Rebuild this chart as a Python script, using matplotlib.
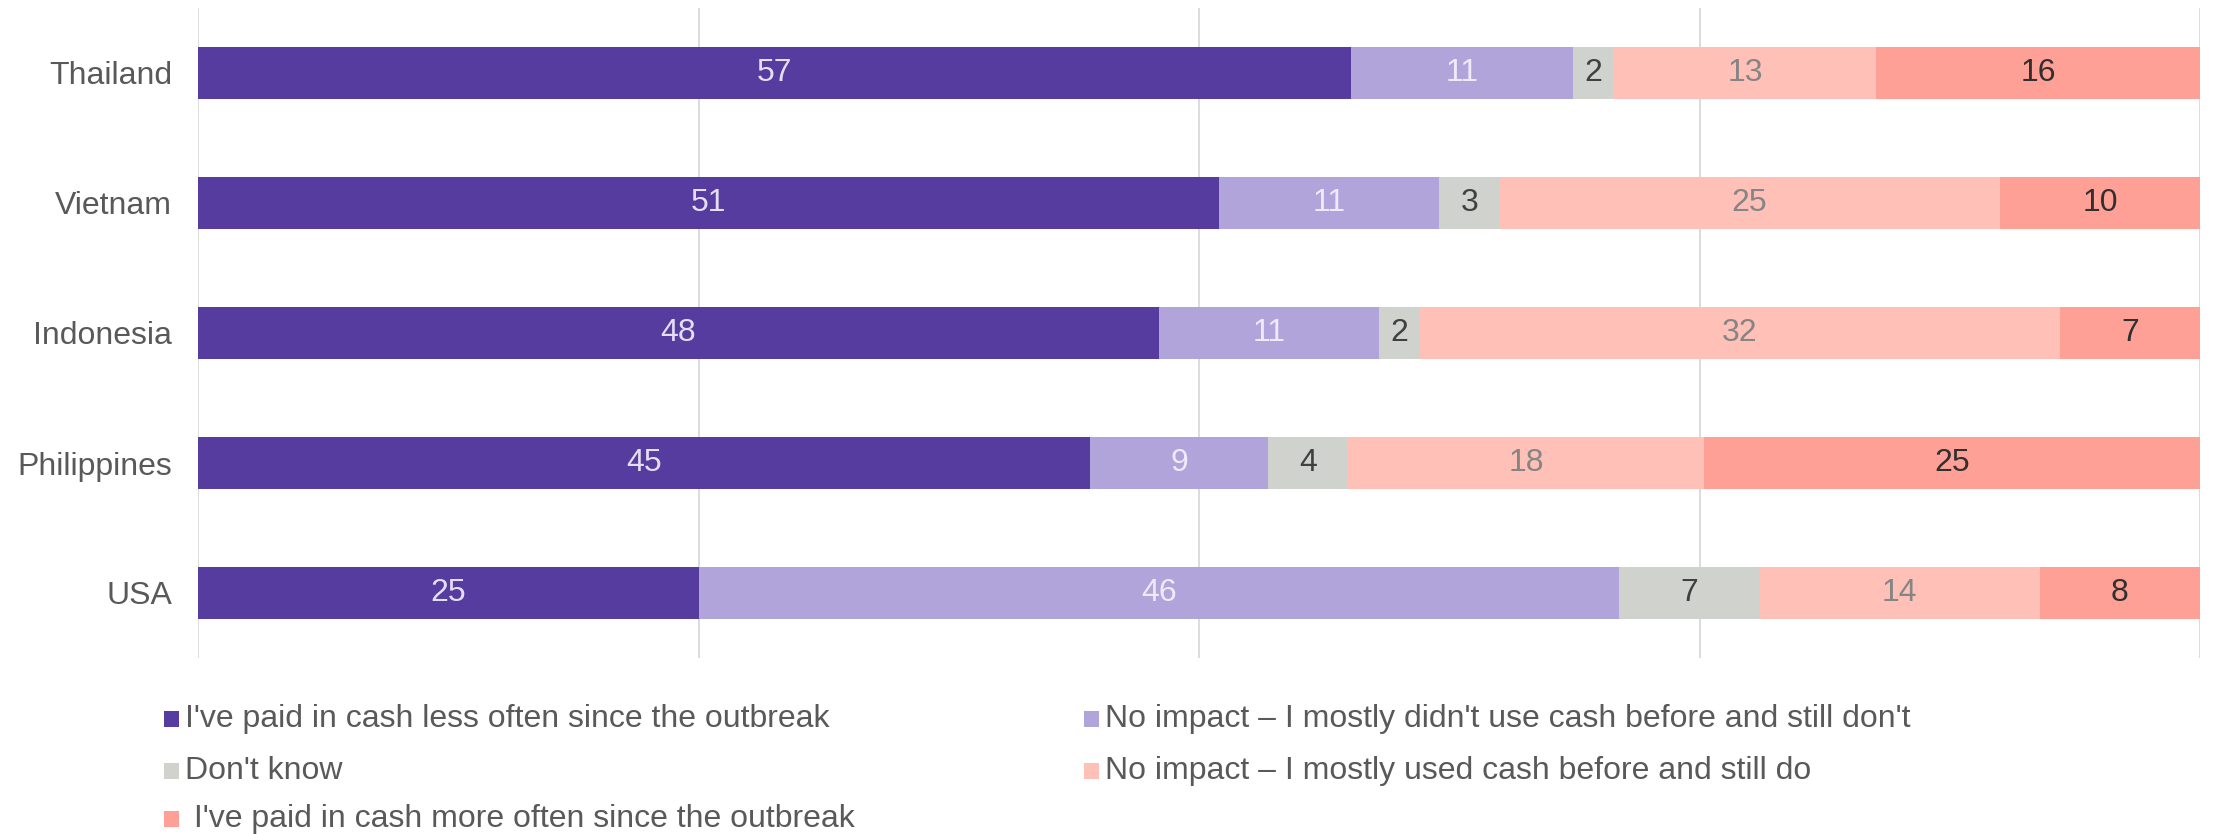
import matplotlib
matplotlib.use("Agg")
import matplotlib.pyplot as plt
from matplotlib.patches import Rectangle
import numpy as np

plt.rcParams['font.family'] = ['Liberation Sans', 'DejaVu Sans']

countries = ["Thailand", "Vietnam", "Indonesia", "Philippines", "USA"]
series_names = [
    "I've paid in cash less often since the outbreak",
    "No impact \u2013 I mostly didn't use cash before and still don't",
    "Don't know",
    "No impact \u2013 I mostly used cash before and still do",
    " I've paid in cash more often since the outbreak",
]
less_often = [57, 51, 48, 45, 25]
no_impact_noncash = [11, 11, 11, 9, 46]
dont_know = [2, 3, 2, 4, 7]
no_impact_cash = [13, 25, 32, 18, 14]
more_often = [16, 10, 7, 25, 8]

colors = ["#553C9E", "#B0A4DB", "#D0D2CE", "#FFC0B8", "#FFA096"]
label_colors = ["#E4DEF4", "#EEEAF8", "#404040", "#858585", "#303030"]

values = np.array([less_often, no_impact_noncash, dont_know, no_impact_cash, more_often], dtype=float)
shares = values / values.sum(axis=0) * 100  # 100% stacked

fig = plt.figure(figsize=(22.14, 8.34), dpi=100)
ax = fig.add_axes([198 / 2214, 1 - 658 / 834, 2002 / 2214, 650 / 834])

y = np.arange(len(countries))
left = np.zeros(len(countries))
for i in range(len(series_names)):
    ax.barh(y, shares[i], left=left, height=0.4, color=colors[i], zorder=3, linewidth=0)
    for j in range(len(countries)):
        ax.text(left[j] + shares[i][j] / 2, y[j], f"{int(values[i][j])}",
                ha="center", va="center", fontsize=23, color=label_colors[i], zorder=4)
    left += shares[i]

ax.set_xlim(0, 100)
ax.set_ylim(len(countries) - 0.5, -0.5)
ax.set_xticks([0, 25, 50, 75, 100])
ax.xaxis.grid(True, color="#D9D9D9", linewidth=1.3, zorder=0)
ax.tick_params(axis="x", bottom=False, labelbottom=False)
ax.tick_params(axis="y", left=False, labelsize=23, labelcolor="#595959", pad=15)
ax.set_yticks(y)
ax.set_yticklabels(countries)
for s in ax.spines.values():
    s.set_visible(False)

# Legend: two columns, filled row by row
positions = [(164, 719), (1084, 719), (164, 771), (1084, 771), (164, 819)]
W, H = 2214, 834
for i, (px, py) in enumerate(positions):
    fig.add_artist(Rectangle((px / W, 1 - (py + 8) / H), 15 / W, 16 / H,
                             transform=fig.transFigure, color=colors[i], linewidth=0))
    fig.text((px + 21) / W, 1 - py / H, series_names[i], fontsize=23,
             color="#595959", ha="left", va="center")

fig.savefig("out.png", dpi=100, facecolor="white")
